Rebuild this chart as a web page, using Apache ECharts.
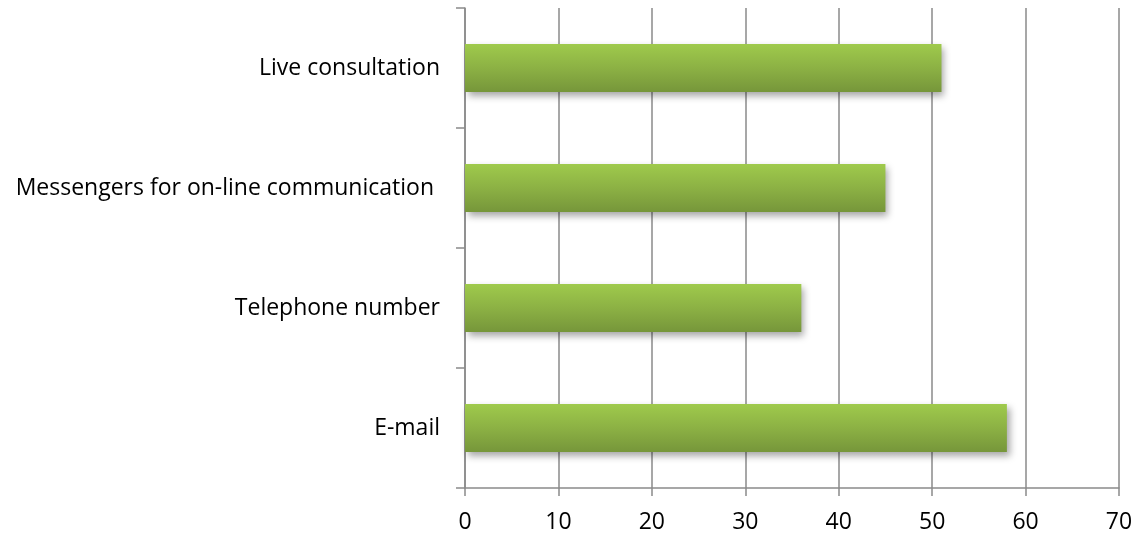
<!DOCTYPE html>
<html>
<head>
<meta charset="utf-8">
<script src="https://cdn.jsdelivr.net/npm/echarts@6/dist/echarts.min.js"></script>
<style>
  html, body { margin: 0; padding: 0; background: #ffffff; }
  #chart { width: 1142px; height: 535px; }
</style>
</head>
<body>
<div id="chart"></div>
<script>
// Contact channels, listed bottom to top as drawn on the category axis
const categories = ['E-mail', 'Telephone number', 'Messengers for on-line communication ', 'Live consultation'];
const values = [58, 36, 45, 51];
const xTicks = [0, 10, 20, 30, 40, 50, 60, 70];

const gridGray = '#8a8a8a';
const chart = echarts.init(document.getElementById('chart'), null, { renderer: 'canvas' });

chart.setOption({
  animation: false,
  backgroundColor: '#ffffff',
  grid: { left: 465, right: 23, top: 8, bottom: 47, containLabel: false },
  xAxis: {
    type: 'value',
    min: xTicks[0],
    max: xTicks[xTicks.length - 1],
    interval: 10,
    axisLine: { show: true, lineStyle: { color: gridGray, width: 1.5 } },
    axisTick: { show: true, length: 8, lineStyle: { color: gridGray, width: 1.5 } },
    splitLine: { show: true, lineStyle: { color: gridGray, width: 1.5 } },
    axisLabel: {
      color: '#000000',
      fontFamily: 'Open Sans',
      fontSize: 23,
      margin: 23
    }
  },
  yAxis: {
    type: 'category',
    data: categories,
    axisLine: { show: true, lineStyle: { color: gridGray, width: 1.5 } },
    axisTick: { show: true, length: 9, alignWithLabel: false, lineStyle: { color: gridGray, width: 1.5 } },
    splitLine: { show: false },
    axisLabel: {
      color: '#000000',
      fontFamily: 'Open Sans',
      fontSize: 23,
      margin: 25
    }
  },
  series: [{
    type: 'bar',
    data: values,
    barWidth: 48,
    itemStyle: {
      color: new echarts.graphic.LinearGradient(0, 0, 0, 1, [
        { offset: 0, color: '#9fca4c' },
        { offset: 0.5, color: '#8cb144' },
        { offset: 1, color: '#76963a' }
      ]),
      shadowColor: 'rgba(0,0,0,0.35)',
      shadowBlur: 7,
      shadowOffsetX: 3,
      shadowOffsetY: 4
    }
  }]
});
</script>
</body>
</html>
